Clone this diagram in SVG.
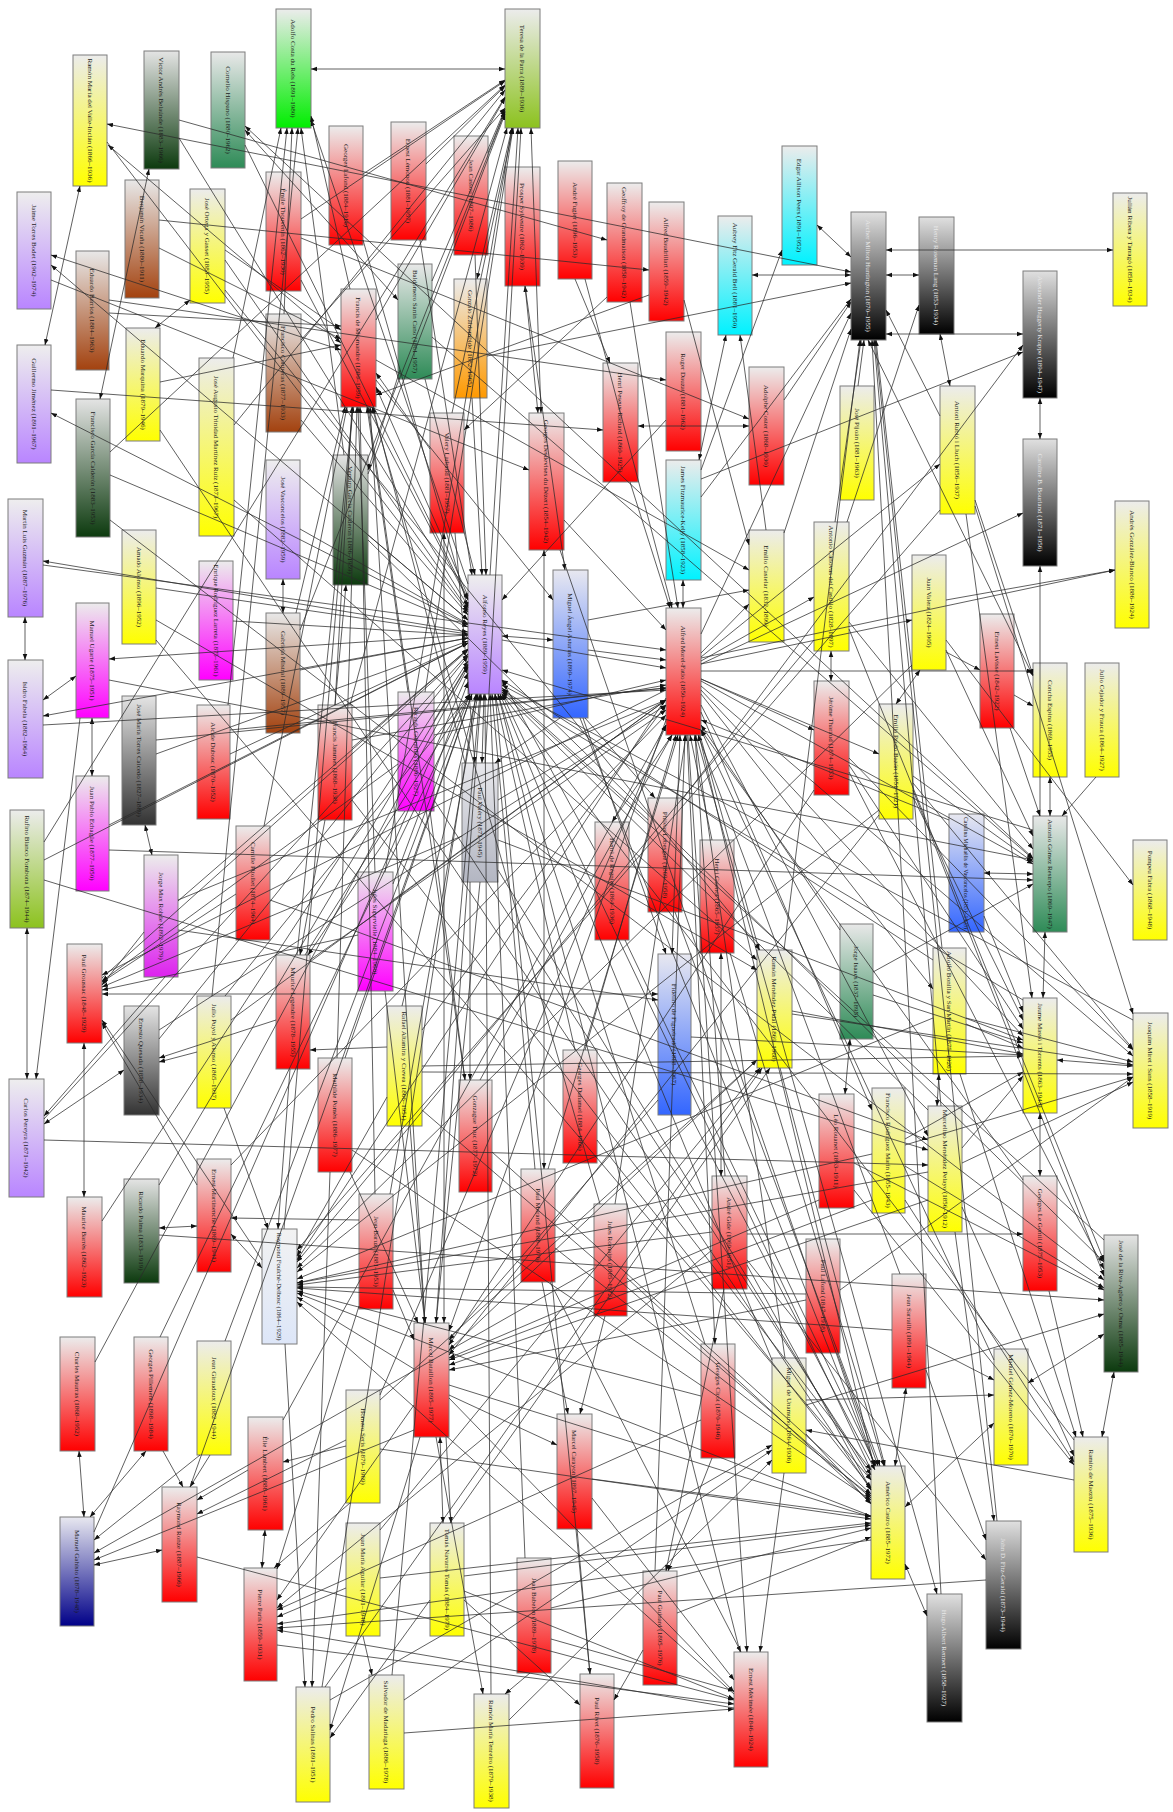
<svg xmlns="http://www.w3.org/2000/svg" width="1173" height="1812" viewBox="0 0 1173 1812">
<style>
.n rect{stroke:#7d7d7d;stroke-width:1}
.t{font-family:"Liberation Serif","DejaVu Serif",serif;font-size:7px;text-anchor:middle;fill:#1a1a1a}
.w{fill:#e8e8e8}
#edges path{stroke:#2b2b2b;stroke-width:0.75;fill:none;marker-end:url(#a)}
#edges path.b{marker-start:url(#a)}
</style>
<defs>
<marker id="a" viewBox="0 0 10 10" refX="10" refY="5" markerWidth="6" markerHeight="6" markerUnits="userSpaceOnUse" orient="auto-start-reverse"><path d="M0,1.2L10,5L0,8.8z" fill="#111"/></marker>
<linearGradient id="gR" x1="0" y1="0" x2="0" y2="1"><stop offset="0" stop-color="#ececec"/><stop offset="1" stop-color="#ff0000"/></linearGradient>
<linearGradient id="gY" x1="0" y1="0" x2="0" y2="1"><stop offset="0" stop-color="#ececec"/><stop offset="1" stop-color="#ffff00"/></linearGradient>
<linearGradient id="gL" x1="0" y1="0" x2="0" y2="1"><stop offset="0" stop-color="#eeeeee"/><stop offset="1" stop-color="#b985ff"/></linearGradient>
<linearGradient id="gM" x1="0" y1="0" x2="0" y2="1"><stop offset="0" stop-color="#ececec"/><stop offset="1" stop-color="#ff00ff"/></linearGradient>
<linearGradient id="gM2" x1="0" y1="0" x2="0" y2="1"><stop offset="0" stop-color="#ececec"/><stop offset="1" stop-color="#dd22ee"/></linearGradient>
<linearGradient id="gDG" x1="0" y1="0" x2="0" y2="1"><stop offset="0" stop-color="#e4e4e4"/><stop offset="1" stop-color="#0c3a0e"/></linearGradient>
<linearGradient id="gT" x1="0" y1="0" x2="0" y2="1"><stop offset="0" stop-color="#e8e8e8"/><stop offset="1" stop-color="#2e8b57"/></linearGradient>
<linearGradient id="gB" x1="0" y1="0" x2="0" y2="1"><stop offset="0" stop-color="#e8e8e8"/><stop offset="1" stop-color="#a3420f"/></linearGradient>
<linearGradient id="gC" x1="0" y1="0" x2="0" y2="1"><stop offset="0" stop-color="#ececec"/><stop offset="1" stop-color="#00f2ff"/></linearGradient>
<linearGradient id="gK" x1="0" y1="0" x2="0" y2="1"><stop offset="0" stop-color="#e0e0e0"/><stop offset="1" stop-color="#000000"/></linearGradient>
<linearGradient id="gG" x1="0" y1="0" x2="0" y2="1"><stop offset="0" stop-color="#e4e4e4"/><stop offset="1" stop-color="#333333"/></linearGradient>
<linearGradient id="gP" x1="0" y1="0" x2="0" y2="1"><stop offset="0" stop-color="#f2f2f2"/><stop offset="1" stop-color="#dde6f8"/></linearGradient>
<linearGradient id="gV" x1="0" y1="0" x2="0" y2="1"><stop offset="0" stop-color="#e8e8ec"/><stop offset="1" stop-color="#b3b6c2"/></linearGradient>
<linearGradient id="gBl" x1="0" y1="0" x2="0" y2="1"><stop offset="0" stop-color="#e8e8f0"/><stop offset="1" stop-color="#3366ff"/></linearGradient>
<linearGradient id="gDB" x1="0" y1="0" x2="0" y2="1"><stop offset="0" stop-color="#e8e8f0"/><stop offset="1" stop-color="#000088"/></linearGradient>
<linearGradient id="gYG" x1="0" y1="0" x2="0" y2="1"><stop offset="0" stop-color="#ececec"/><stop offset="1" stop-color="#8cc21e"/></linearGradient>
<linearGradient id="gGr" x1="0" y1="0" x2="0" y2="1"><stop offset="0" stop-color="#ececec"/><stop offset="1" stop-color="#00ee00"/></linearGradient>
<linearGradient id="gO" x1="0" y1="0" x2="0" y2="1"><stop offset="0" stop-color="#ececec"/><stop offset="1" stop-color="#ff9900"/></linearGradient>
</defs>
<rect width="1173" height="1812" fill="#ffffff"/>
<g id="nodes">
<g id="n1" class="n"><rect x="276" y="9" width="35" height="119" fill="url(#gGr)"/><text class="t" transform="translate(293.5 68.5) rotate(90)" y="2.5">Adolfo Costa du Rels (1891–1980)</text></g>
<g id="n2" class="n"><rect x="73" y="55" width="34" height="131" fill="url(#gY)"/><text class="t" transform="translate(90 120.5) rotate(90)" y="2.5" textLength="124" lengthAdjust="spacingAndGlyphs">Ramón María del Valle-Inclán (1866–1936)</text></g>
<g id="n3" class="n"><rect x="144" y="51" width="35" height="118" fill="url(#gDG)"/><text class="t" transform="translate(161.5 110) rotate(90)" y="2.5">Víctor Andrés Belaúnde (1883–1966)</text></g>
<g id="n4" class="n"><rect x="211" y="52" width="34" height="116" fill="url(#gT)"/><text class="t" transform="translate(228 110) rotate(90)" y="2.5">Cornelio Hispano (1880–1962)</text></g>
<g id="n5" class="n"><rect x="329" y="126" width="34" height="119" fill="url(#gR)"/><text class="t" transform="translate(346 185.5) rotate(90)" y="2.5">Georges Lafond (1884–1916)</text></g>
<g id="n6" class="n"><rect x="17" y="192" width="34" height="117" fill="url(#gL)"/><text class="t" transform="translate(34 250.5) rotate(90)" y="2.5">Jaime Torres Bodet (1902–1974)</text></g>
<g id="n7" class="n"><rect x="125" y="180" width="34" height="118" fill="url(#gB)"/><text class="t" transform="translate(142 239) rotate(90)" y="2.5">Benjamín Vicuña (1880–1911)</text></g>
<g id="n8" class="n"><rect x="190" y="189" width="35" height="114" fill="url(#gY)"/><text class="t" transform="translate(207.5 246) rotate(90)" y="2.5">José Ortega y Gasset (1883–1955)</text></g>
<g id="n9" class="n"><rect x="266" y="172" width="35" height="119" fill="url(#gR)"/><text class="t" transform="translate(283.5 231.5) rotate(90)" y="2.5">Émile Thouvenin (1862–1930)</text></g>
<g id="n10" class="n"><rect x="76" y="251" width="33" height="119" fill="url(#gB)"/><text class="t" transform="translate(92.5 310.5) rotate(90)" y="2.5">Eduardo Barrios (1884–1963)</text></g>
<g id="n11" class="n"><rect x="341" y="289" width="35" height="118" fill="url(#gR)"/><text class="t" transform="translate(358.5 348) rotate(90)" y="2.5">Francis de Miomandre (1880–1959)</text></g>
<g id="n12" class="n"><rect x="266" y="314" width="35" height="118" fill="url(#gB)"/><text class="t" transform="translate(283.5 373) rotate(90)" y="2.5">Francisco Contreras (1877–1933)</text></g>
<g id="n13" class="n"><rect x="126" y="328" width="34" height="113" fill="url(#gY)"/><text class="t" transform="translate(143 384.5) rotate(90)" y="2.5">Eduardo Marquina (1879–1946)</text></g>
<g id="n14" class="n"><rect x="199" y="358" width="35" height="178" fill="url(#gY)"/><text class="t" transform="translate(216.5 447) rotate(90)" y="2.5">José Augusto Trinidad Martínez Ruiz (1873–1967)</text></g>
<g id="n15" class="n"><rect x="76" y="399" width="34" height="138" fill="url(#gDG)"/><text class="t" transform="translate(93 468) rotate(90)" y="2.5">Francisco García Calderón (1883–1953)</text></g>
<g id="n16" class="n"><rect x="505" y="9" width="35" height="119" fill="url(#gYG)"/><text class="t" transform="translate(522.5 68.5) rotate(90)" y="2.5">Teresa de la Parra (1889–1936)</text></g>
<g id="n17" class="n"><rect x="391" y="122" width="35" height="118" fill="url(#gR)"/><text class="t" transform="translate(408.5 181) rotate(90)" y="2.5">Ernest Lémonon (1881–1957)</text></g>
<g id="n18" class="n"><rect x="454" y="136" width="34" height="119" fill="url(#gR)"/><text class="t" transform="translate(471 195.5) rotate(90)" y="2.5">Jean Cassou (1897–1986)</text></g>
<g id="n19" class="n"><rect x="505" y="167" width="35" height="119" fill="url(#gR)"/><text class="t" transform="translate(522.5 226.5) rotate(90)" y="2.5">Prosper Sylvestre (1862–1939)</text></g>
<g id="n20" class="n"><rect x="558" y="161" width="34" height="118" fill="url(#gR)"/><text class="t" transform="translate(575 220) rotate(90)" y="2.5">André Fugier (1896–1953)</text></g>
<g id="n21" class="n"><rect x="607" y="183" width="35" height="119" fill="url(#gR)"/><text class="t" transform="translate(624.5 242.5) rotate(90)" y="2.5">Geoffroy de Grandmaison (1858–1942)</text></g>
<g id="n22" class="n"><rect x="649" y="202" width="35" height="119" fill="url(#gR)"/><text class="t" transform="translate(666.5 261.5) rotate(90)" y="2.5">Alfred Baudrillart (1859–1942)</text></g>
<g id="n23" class="n"><rect x="718" y="216" width="34" height="119" fill="url(#gC)"/><text class="t" transform="translate(735 275.5) rotate(90)" y="2.5">Aubrey Fitz Gerald Bell (1881–1950)</text></g>
<g id="n24" class="n"><rect x="666" y="332" width="35" height="119" fill="url(#gR)"/><text class="t" transform="translate(683.5 391.5) rotate(90)" y="2.5">Roger Dauzat (1881–1962)</text></g>
<g id="n25" class="n"><rect x="603" y="363" width="35" height="119" fill="url(#gR)"/><text class="t" transform="translate(620.5 422.5) rotate(90)" y="2.5">Henri Peseux-Richard (1860–1925)</text></g>
<g id="n26" class="n"><rect x="529" y="413" width="35" height="137" fill="url(#gR)"/><text class="t" transform="translate(546.5 481.5) rotate(90)" y="2.5">Georges Desdevises du Dézert (1854–1942)</text></g>
<g id="n27" class="n"><rect x="430" y="413" width="34" height="120" fill="url(#gR)"/><text class="t" transform="translate(447 473) rotate(90)" y="2.5">Valery Larbaud (1881–1957)</text></g>
<g id="n28" class="n"><rect x="398" y="264" width="34" height="115" fill="url(#gT)"/><text class="t" transform="translate(415 321.5) rotate(90)" y="2.5">Baldomero Sanín Cano (1861–1957)</text></g>
<g id="n29" class="n"><rect x="454" y="279" width="33" height="119" fill="url(#gO)"/><text class="t" transform="translate(470.5 338.5) rotate(90)" y="2.5">Gonzalo Zaldumbide (1882–1965)</text></g>
<g id="n30" class="n"><rect x="782" y="146" width="35" height="119" fill="url(#gC)"/><text class="t" transform="translate(799.5 205.5) rotate(90)" y="2.5">Edgar Allison Peers (1891–1952)</text></g>
<g id="n31" class="n"><rect x="851" y="212" width="35" height="128" fill="url(#gK)"/><text class="t w" transform="translate(868.5 276) rotate(90)" y="2.5">Archer Milton Huntington (1870–1955)</text></g>
<g id="n32" class="n"><rect x="919" y="217" width="35" height="117" fill="url(#gK)"/><text class="t w" transform="translate(936.5 275.5) rotate(90)" y="2.5">Henry Roseman Lang (1853–1934)</text></g>
<g id="n33" class="n"><rect x="1113" y="193" width="34" height="113" fill="url(#gY)"/><text class="t" transform="translate(1130 249.5) rotate(90)" y="2.5" textLength="106" lengthAdjust="spacingAndGlyphs">Julián Ribera y Tarragó (1858–1934)</text></g>
<g id="n34" class="n"><rect x="1023" y="271" width="34" height="127" fill="url(#gK)"/><text class="t w" transform="translate(1040 334.5) rotate(90)" y="2.5">Alexander Haggerty Krappe (1894–1947)</text></g>
<g id="n35" class="n"><rect x="840" y="386" width="34" height="114" fill="url(#gY)"/><text class="t" transform="translate(857 443) rotate(90)" y="2.5">José Pijoán (1881–1963)</text></g>
<g id="n36" class="n"><rect x="940" y="386" width="35" height="128" fill="url(#gY)"/><text class="t" transform="translate(957.5 450) rotate(90)" y="2.5">Antoni Rubió i Lluch (1856–1937)</text></g>
<g id="n37" class="n"><rect x="1023" y="439" width="34" height="127" fill="url(#gK)"/><text class="t w" transform="translate(1040 502.5) rotate(90)" y="2.5">Caroline B. Bourland (1871–1956)</text></g>
<g id="n38" class="n"><rect x="814" y="522" width="35" height="129" fill="url(#gY)"/><text class="t" transform="translate(831.5 586.5) rotate(90)" y="2.5" textLength="122" lengthAdjust="spacingAndGlyphs">Antonio Cánovas del Castillo (1828–1897)</text></g>
<g id="n39" class="n"><rect x="912" y="555" width="34" height="115" fill="url(#gY)"/><text class="t" transform="translate(929 612.5) rotate(90)" y="2.5">Juan Valera (1824–1905)</text></g>
<g id="n40" class="n"><rect x="980" y="614" width="34" height="114" fill="url(#gR)"/><text class="t" transform="translate(997 671) rotate(90)" y="2.5">Ernest Lavisse (1842–1922)</text></g>
<g id="n41" class="n"><rect x="1115" y="501" width="34" height="127" fill="url(#gY)"/><text class="t" transform="translate(1132 564.5) rotate(90)" y="2.5">Andrés González-Blanco (1886–1924)</text></g>
<g id="n42" class="n"><rect x="814" y="681" width="35" height="114" fill="url(#gR)"/><text class="t" transform="translate(831.5 738) rotate(90)" y="2.5">Jérôme Tharaud (1874–1953)</text></g>
<g id="n43" class="n"><rect x="879" y="704" width="34" height="115" fill="url(#gY)"/><text class="t" transform="translate(896 761.5) rotate(90)" y="2.5">Emilia Pardo Bazán (1851–1921)</text></g>
<g id="n44" class="n"><rect x="1033" y="663" width="34" height="114" fill="url(#gY)"/><text class="t" transform="translate(1050 720) rotate(90)" y="2.5">Concha Espina (1869–1955)</text></g>
<g id="n45" class="n"><rect x="1085" y="663" width="34" height="114" fill="url(#gY)"/><text class="t" transform="translate(1102 720) rotate(90)" y="2.5">Julio Cejador y Frauca (1864–1927)</text></g>
<g id="n46" class="n"><rect x="949" y="814" width="35" height="118" fill="url(#gBl)"/><text class="t" transform="translate(966.5 873) rotate(90)" y="2.5" textLength="112" lengthAdjust="spacingAndGlyphs">Carolina Michaëlis de Vasconcelos (1851–1925)</text></g>
<g id="n47" class="n"><rect x="1033" y="816" width="34" height="116" fill="url(#gT)"/><text class="t" transform="translate(1050 874) rotate(90)" y="2.5">Antonio Gómez Restrepo (1869–1947)</text></g>
<g id="n48" class="n"><rect x="1133" y="840" width="34" height="100" fill="url(#gY)"/><text class="t" transform="translate(1150 890) rotate(90)" y="2.5">Pompeu Fabra (1868–1948)</text></g>
<g id="n49" class="n"><rect x="840" y="924" width="33" height="115" fill="url(#gT)"/><text class="t" transform="translate(856.5 981.5) rotate(90)" y="2.5">Jorge Isaacs (1837–1895)</text></g>
<g id="n50" class="n"><rect x="933" y="948" width="33" height="126" fill="url(#gY)"/><text class="t" transform="translate(949.5 1011) rotate(90)" y="2.5" textLength="120" lengthAdjust="spacingAndGlyphs">Adolfo Bonilla y San Martín (1875–1926)</text></g>
<g id="n51" class="n"><rect x="1023" y="998" width="34" height="115" fill="url(#gY)"/><text class="t" transform="translate(1040 1055.5) rotate(90)" y="2.5">Jaume Massó i Torrents (1863–1943)</text></g>
<g id="n52" class="n"><rect x="1133" y="1013" width="35" height="115" fill="url(#gY)"/><text class="t" transform="translate(1150.5 1070.5) rotate(90)" y="2.5">Joaquim Miret i Sans (1858–1919)</text></g>
<g id="n53" class="n"><rect x="819" y="1094" width="35" height="114" fill="url(#gR)"/><text class="t" transform="translate(836.5 1151) rotate(90)" y="2.5">Léo Rouanet (1863–1911)</text></g>
<g id="n54" class="n"><rect x="872" y="1088" width="33" height="125" fill="url(#gY)"/><text class="t" transform="translate(888.5 1150.5) rotate(90)" y="2.5">Francisco Rodríguez Marín (1855–1943)</text></g>
<g id="n55" class="n"><rect x="928" y="1106" width="34" height="126" fill="url(#gY)"/><text class="t" transform="translate(945 1169) rotate(90)" y="2.5">Marcelino Menéndez Pelayo (1856–1912)</text></g>
<g id="n56" class="n"><rect x="1023" y="1176" width="34" height="115" fill="url(#gR)"/><text class="t" transform="translate(1040 1233.5) rotate(90)" y="2.5">Georges Le Gentil (1875–1953)</text></g>
<g id="n57" class="n"><rect x="1104" y="1235" width="34" height="137" fill="url(#gDG)"/><text class="t" transform="translate(1121 1303.5) rotate(90)" y="2.5">José de la Riva-Agüero y Osma (1885–1944)</text></g>
<g id="n58" class="n"><rect x="806" y="1239" width="34" height="114" fill="url(#gR)"/><text class="t" transform="translate(823 1296) rotate(90)" y="2.5">Paul Lafond (1847–1918)</text></g>
<g id="n59" class="n"><rect x="892" y="1274" width="34" height="114" fill="url(#gR)"/><text class="t" transform="translate(909 1331) rotate(90)" y="2.5">Jean Sarrailh (1891–1964)</text></g>
<g id="n60" class="n"><rect x="994" y="1349" width="34" height="116" fill="url(#gY)"/><text class="t" transform="translate(1011 1407) rotate(90)" y="2.5">Manuel Gómez-Moreno (1870–1970)</text></g>
<g id="n61" class="n"><rect x="1074" y="1437" width="34" height="115" fill="url(#gY)"/><text class="t" transform="translate(1091 1494.5) rotate(90)" y="2.5">Ramiro de Maeztu (1875–1936)</text></g>
<g id="n62" class="n"><rect x="871" y="1466" width="34" height="113" fill="url(#gY)"/><text class="t" transform="translate(888 1522.5) rotate(90)" y="2.5">Américo Castro (1885–1972)</text></g>
<g id="n63" class="n"><rect x="986" y="1521" width="35" height="128" fill="url(#gK)"/><text class="t w" transform="translate(1003.5 1585) rotate(90)" y="2.5">John D. Fitz-Gerald (1873–1944)</text></g>
<g id="n64" class="n"><rect x="927" y="1594" width="35" height="128" fill="url(#gK)"/><text class="t w" transform="translate(944.5 1658) rotate(90)" y="2.5">Hugo Albert Rennert (1858–1927)</text></g>
<g id="n65" class="n"><rect x="772" y="1358" width="34" height="115" fill="url(#gY)"/><text class="t" transform="translate(789 1415.5) rotate(90)" y="2.5">Miguel de Unamuno (1864–1936)</text></g>
<g id="n66" class="n"><rect x="414" y="1323" width="35" height="114" fill="url(#gR)"/><text class="t" transform="translate(431.5 1380) rotate(90)" y="2.5">Marcel Bataillon (1895–1977)</text></g>
<g id="n67" class="n"><rect x="557" y="1414" width="35" height="115" fill="url(#gR)"/><text class="t" transform="translate(574.5 1471.5) rotate(90)" y="2.5">Marcel Carayon (1897–1945)</text></g>
<g id="n68" class="n"><rect x="701" y="1344" width="34" height="114" fill="url(#gR)"/><text class="t" transform="translate(718 1401) rotate(90)" y="2.5">Georges Cirot (1870–1946)</text></g>
<g id="n69" class="n"><rect x="430" y="1523" width="34" height="113" fill="url(#gY)"/><text class="t" transform="translate(447 1579.5) rotate(90)" y="2.5">Tomás Navarro Tomás (1884–1979)</text></g>
<g id="n70" class="n"><rect x="517" y="1558" width="34" height="115" fill="url(#gR)"/><text class="t" transform="translate(534 1615.5) rotate(90)" y="2.5">Jean Babelon (1889–1978)</text></g>
<g id="n71" class="n"><rect x="643" y="1571" width="34" height="114" fill="url(#gR)"/><text class="t" transform="translate(660 1628) rotate(90)" y="2.5">Paul Guinard (1895–1976)</text></g>
<g id="n72" class="n"><rect x="474" y="1694" width="35" height="114" fill="url(#gY)"/><text class="t" transform="translate(491.5 1751) rotate(90)" y="2.5">Ramón María Tenreiro (1879–1938)</text></g>
<g id="n73" class="n"><rect x="580" y="1674" width="34" height="114" fill="url(#gR)"/><text class="t" transform="translate(597 1731) rotate(90)" y="2.5">Paul Rivet (1876–1958)</text></g>
<g id="n74" class="n"><rect x="734" y="1652" width="34" height="115" fill="url(#gR)"/><text class="t" transform="translate(751 1709.5) rotate(90)" y="2.5">Ernest Mérimée (1846–1924)</text></g>
<g id="n75" class="n"><rect x="60" y="1337" width="35" height="114" fill="url(#gR)"/><text class="t" transform="translate(77.5 1394) rotate(90)" y="2.5">Charles Maurras (1868–1952)</text></g>
<g id="n76" class="n"><rect x="134" y="1337" width="34" height="114" fill="url(#gR)"/><text class="t" transform="translate(151 1394) rotate(90)" y="2.5">Georges Pillement (1898–1984)</text></g>
<g id="n77" class="n"><rect x="197" y="1341" width="34" height="114" fill="url(#gY)"/><text class="t" transform="translate(214 1398) rotate(90)" y="2.5">Jean Giraudoux (1882–1944)</text></g>
<g id="n78" class="n"><rect x="248" y="1417" width="35" height="113" fill="url(#gR)"/><text class="t" transform="translate(265.5 1473.5) rotate(90)" y="2.5">Élie Lambert (1888–1961)</text></g>
<g id="n79" class="n"><rect x="346" y="1390" width="34" height="113" fill="url(#gY)"/><text class="t" transform="translate(363 1446.5) rotate(90)" y="2.5">Homero Serís (1879–1969)</text></g>
<g id="n80" class="n"><rect x="60" y="1517" width="34" height="109" fill="url(#gDB)"/><text class="t" transform="translate(77 1571.5) rotate(90)" y="2.5">Manuel Gahisto (1878–1948)</text></g>
<g id="n81" class="n"><rect x="162" y="1487" width="35" height="115" fill="url(#gR)"/><text class="t" transform="translate(179.5 1544.5) rotate(90)" y="2.5">Raymond Ronze (1887–1966)</text></g>
<g id="n82" class="n"><rect x="346" y="1523" width="34" height="113" fill="url(#gY)"/><text class="t" transform="translate(363 1579.5) rotate(90)" y="2.5">Juan María Aguilar (1891–1948)</text></g>
<g id="n83" class="n"><rect x="244" y="1568" width="33" height="113" fill="url(#gR)"/><text class="t" transform="translate(260.5 1624.5) rotate(90)" y="2.5">Pierre Paris (1859–1931)</text></g>
<g id="n84" class="n"><rect x="296" y="1687" width="34" height="115" fill="url(#gY)"/><text class="t" transform="translate(313 1744.5) rotate(90)" y="2.5">Pedro Salinas (1891–1951)</text></g>
<g id="n85" class="n"><rect x="369" y="1675" width="35" height="114" fill="url(#gY)"/><text class="t" transform="translate(386.5 1732) rotate(90)" y="2.5">Salvador de Madariaga (1886–1978)</text></g>
<g id="n86" class="n"><rect x="10" y="810" width="34" height="118" fill="url(#gYG)"/><text class="t" transform="translate(27 869) rotate(90)" y="2.5">Rufino Blanco Fombona (1874–1944)</text></g>
<g id="n87" class="n"><rect x="67" y="944" width="35" height="99" fill="url(#gR)"/><text class="t" transform="translate(84.5 993.5) rotate(90)" y="2.5">Paul Groussac (1848–1929)</text></g>
<g id="n88" class="n"><rect x="124" y="1006" width="35" height="109" fill="url(#gG)"/><text class="t" transform="translate(141.5 1060.5) rotate(90)" y="2.5">Ernesto Quesada (1858–1934)</text></g>
<g id="n89" class="n"><rect x="197" y="996" width="34" height="112" fill="url(#gY)"/><text class="t" transform="translate(214 1052) rotate(90)" y="2.5">Julio Puyol y Alonso (1865–1937)</text></g>
<g id="n90" class="n"><rect x="276" y="955" width="34" height="114" fill="url(#gR)"/><text class="t" transform="translate(293 1012) rotate(90)" y="2.5">Maurice Legendre (1878–1955)</text></g>
<g id="n91" class="n"><rect x="124" y="1179" width="35" height="104" fill="url(#gDG)"/><text class="t" transform="translate(141.5 1231) rotate(90)" y="2.5">Ricardo Palma (1833–1919)</text></g>
<g id="n92" class="n"><rect x="67" y="1197" width="35" height="100" fill="url(#gR)"/><text class="t" transform="translate(84.5 1247) rotate(90)" y="2.5">Maurice Barrès (1862–1923)</text></g>
<g id="n93" class="n"><rect x="9" y="1079" width="35" height="118" fill="url(#gL)"/><text class="t" transform="translate(26.5 1138) rotate(90)" y="2.5">Carlos Pereyra (1871–1942)</text></g>
<g id="n94" class="n"><rect x="197" y="1159" width="34" height="113" fill="url(#gR)"/><text class="t" transform="translate(214 1215.5) rotate(90)" y="2.5">Ernest Martinenche (1869–1941)</text></g>
<g id="n95" class="n"><rect x="262" y="1229" width="35" height="115" fill="url(#gP)"/><text class="t" transform="translate(279.5 1286.5) rotate(90)" y="2.5" textLength="108" lengthAdjust="spacingAndGlyphs">Raymond Foulché-Delbosc (1864–1929)</text></g>
<g id="n96" class="n"><rect x="318" y="1058" width="34" height="114" fill="url(#gR)"/><text class="t" transform="translate(335 1115) rotate(90)" y="2.5">Mathilde Pomès (1886–1977)</text></g>
<g id="n97" class="n"><rect x="359" y="1194" width="34" height="115" fill="url(#gR)"/><text class="t" transform="translate(376 1251.5) rotate(90)" y="2.5">Jean Baruzi (1881–1953)</text></g>
<g id="n98" class="n"><rect x="236" y="826" width="34" height="114" fill="url(#gR)"/><text class="t" transform="translate(253 883) rotate(90)" y="2.5">Camille Pitollet (1874–1964)</text></g>
<g id="n99" class="n"><rect x="8" y="499" width="35" height="118" fill="url(#gL)"/><text class="t" transform="translate(25.5 558) rotate(90)" y="2.5">Martín Luis Guzmán (1887–1976)</text></g>
<g id="n101" class="n"><rect x="122" y="530" width="34" height="114" fill="url(#gY)"/><text class="t" transform="translate(139 587) rotate(90)" y="2.5">Amado Alonso (1896–1952)</text></g>
<g id="n102" class="n"><rect x="76" y="603" width="33" height="115" fill="url(#gM)"/><text class="t" transform="translate(92.5 660.5) rotate(90)" y="2.5">Manuel Ugarte (1875–1951)</text></g>
<g id="n103" class="n"><rect x="8" y="660" width="35" height="118" fill="url(#gL)"/><text class="t" transform="translate(25.5 719) rotate(90)" y="2.5">Isidro Fabela (1882–1964)</text></g>
<g id="n104" class="n"><rect x="122" y="696" width="34" height="129" fill="url(#gG)"/><text class="t" transform="translate(139 760.5) rotate(90)" y="2.5">José María Torres Caicedo (1827–1889)</text></g>
<g id="n105" class="n"><rect x="76" y="776" width="33" height="115" fill="url(#gM)"/><text class="t" transform="translate(92.5 833.5) rotate(90)" y="2.5">Juan Pablo Echagüe (1877–1950)</text></g>
<g id="n106" class="n"><rect x="144" y="855" width="34" height="122" fill="url(#gM2)"/><text class="t" transform="translate(161 916) rotate(90)" y="2.5">Jorge Max Rohde (1892–1979)</text></g>
<g id="n107" class="n"><rect x="199" y="561" width="34" height="119" fill="url(#gM)"/><text class="t" transform="translate(216 620.5) rotate(90)" y="2.5" textLength="112" lengthAdjust="spacingAndGlyphs">Enrique Rodríguez Larreta (1875–1961)</text></g>
<g id="n108" class="n"><rect x="266" y="460" width="34" height="119" fill="url(#gL)"/><text class="t" transform="translate(283 519.5) rotate(90)" y="2.5">José Vasconcelos (1882–1959)</text></g>
<g id="n109" class="n"><rect x="266" y="613" width="34" height="120" fill="url(#gB)"/><text class="t" transform="translate(283 673) rotate(90)" y="2.5">Gabriela Mistral (1889–1957)</text></g>
<g id="n110" class="n"><rect x="333" y="455" width="35" height="130" fill="url(#gDG)"/><text class="t" transform="translate(350.5 520) rotate(90)" y="2.5">Ventura García Calderón (1886–1959)</text></g>
<g id="n111" class="n"><rect x="197" y="705" width="33" height="114" fill="url(#gR)"/><text class="t" transform="translate(213.5 762) rotate(90)" y="2.5">Alcide Dubosc (1870–1952)</text></g>
<g id="n112" class="n"><rect x="318" y="705" width="34" height="115" fill="url(#gR)"/><text class="t" transform="translate(335 762.5) rotate(90)" y="2.5">Francis Jammes (1868–1938)</text></g>
<g id="n113" class="n"><rect x="468" y="575" width="34" height="119" fill="url(#gL)"/><text class="t" transform="translate(485 634.5) rotate(90)" y="2.5">Alfonso Reyes (1889–1959)</text></g>
<g id="n114" class="n"><rect x="553" y="570" width="35" height="148" fill="url(#gBl)"/><text class="t" transform="translate(570.5 644) rotate(90)" y="2.5">Miguel Ángel Asturias (1899–1974)</text></g>
<g id="n116" class="n"><rect x="666" y="460" width="35" height="120" fill="url(#gC)"/><text class="t" transform="translate(683.5 520) rotate(90)" y="2.5">James Fitzmaurice-Kelly (1858–1923)</text></g>
<g id="n117" class="n"><rect x="666" y="608" width="35" height="127" fill="url(#gR)"/><text class="t" transform="translate(683.5 671.5) rotate(90)" y="2.5">Alfred Morel-Fatio (1850–1924)</text></g>
<g id="n118" class="n"><rect x="749" y="530" width="35" height="112" fill="url(#gY)"/><text class="t" transform="translate(766.5 586) rotate(90)" y="2.5">Emilio Castelar (1832–1899)</text></g>
<g id="n119" class="n"><rect x="398" y="692" width="36" height="119" fill="url(#gM)"/><text class="t" transform="translate(416 751.5) rotate(90)" y="2.5">Ricardo Güiraldes (1886–1927)</text></g>
<g id="n120" class="n"><rect x="462" y="763" width="36" height="119" fill="url(#gV)"/><text class="t" transform="translate(480 822.5) rotate(90)" y="2.5">Paul Valéry (1871–1945)</text></g>
<g id="n121" class="n"><rect x="595" y="822" width="34" height="118" fill="url(#gR)"/><text class="t" transform="translate(612 881) rotate(90)" y="2.5">Henri de Régnier (1864–1936)</text></g>
<g id="n122" class="n"><rect x="648" y="798" width="34" height="114" fill="url(#gR)"/><text class="t" transform="translate(665 855) rotate(90)" y="2.5">Philéas Lebesgue (1869–1958)</text></g>
<g id="n123" class="n"><rect x="700" y="840" width="34" height="113" fill="url(#gR)"/><text class="t" transform="translate(717 896.5) rotate(90)" y="2.5">Henri Guenot (1865–1937)</text></g>
<g id="n124" class="n"><rect x="658" y="954" width="33" height="161" fill="url(#gBl)"/><text class="t" transform="translate(674.5 1034.5) rotate(90)" y="2.5">Fidelino de Figueiredo (1888–1967)</text></g>
<g id="n125" class="n"><rect x="387" y="1006" width="35" height="120" fill="url(#gY)"/><text class="t" transform="translate(404.5 1066) rotate(90)" y="2.5">Rafael Altamira y Crevea (1866–1951)</text></g>
<g id="n126" class="n"><rect x="459" y="1080" width="33" height="112" fill="url(#gR)"/><text class="t" transform="translate(475.5 1136) rotate(90)" y="2.5">Gonzague Truc (1877–1972)</text></g>
<g id="n127" class="n"><rect x="563" y="1050" width="34" height="113" fill="url(#gR)"/><text class="t" transform="translate(580 1106.5) rotate(90)" y="2.5">Georges Duhamel (1884–1966)</text></g>
<g id="n128" class="n"><rect x="521" y="1169" width="34" height="113" fill="url(#gR)"/><text class="t" transform="translate(538 1225.5) rotate(90)" y="2.5">Paul Morand (1888–1976)</text></g>
<g id="n129" class="n"><rect x="594" y="1204" width="33" height="112" fill="url(#gR)"/><text class="t" transform="translate(610.5 1260) rotate(90)" y="2.5">Jules Romains (1885–1972)</text></g>
<g id="n130" class="n"><rect x="712" y="1176" width="35" height="113" fill="url(#gR)"/><text class="t" transform="translate(729.5 1232.5) rotate(90)" y="2.5">André Gide (1869–1951)</text></g>
<g id="n131" class="n"><rect x="358" y="872" width="35" height="119" fill="url(#gM)"/><text class="t" transform="translate(375.5 931.5) rotate(90)" y="2.5">Jules Supervielle (1884–1960)</text></g>
<g id="n132" class="n"><rect x="749" y="367" width="35" height="118" fill="url(#gR)"/><text class="t" transform="translate(766.5 426) rotate(90)" y="2.5">Adolphe Coster (1868–1930)</text></g>
<g id="n133" class="n"><rect x="757" y="950" width="35" height="118" fill="url(#gY)"/><text class="t" transform="translate(774.5 1009) rotate(90)" y="2.5">Ramón Menéndez Pidal (1869–1968)</text></g>
<g id="n134" class="n"><rect x="17" y="345" width="34" height="118" fill="url(#gL)"/><text class="t" transform="translate(34 404) rotate(90)" y="2.5">Guillermo Jiménez (1891–1967)</text></g>
</g>
<g id="edges">
<path d="M376 320L505 98"/><path d="M301 340L505 108"/><path d="M452 413L513 128"/><path d="M490 575L518 128"/><path d="M485 763L521 128"/><path d="M432 281L505 109"/><path class="b" d="M477 279L512 128"/><path d="M368 474L505 114"/><path d="M300 630L505 112"/><path d="M234 425L505 90"/><path d="M425 692L513 128"/><path d="M385 872L512 128"/><path d="M350 705L507 128"/><path d="M44 842L505 97"/><path d="M110 452L505 85"/><path class="b" d="M531 128L541 413"/><path d="M301 219L505 81"/><path d="M363 174L505 80"/><path d="M488 153L505 111"/><path d="M426 164L505 86"/><path class="b" d="M311 69L505 69"/>
<path d="M233 358L281 128"/><path d="M284 314L292 128"/><path d="M344 455L301 128"/><path d="M468 584L311 120"/><path d="M228 705L287 128"/><path d="M212 996L298 128"/><path d="M350 289L311 116"/>
<path class="b" d="M108 145L341 343"/><path class="b" d="M51 255L341 350"/><path d="M468 596L376 387"/><path d="M430 449L376 373"/><path d="M465 763L373 407"/><path d="M375 872L358 407"/><path d="M335 705L352 407"/><path d="M264 826L347 407"/><path d="M297 955L353 407"/><path d="M337 1058L357 407"/><path d="M375 1194L360 407"/><path d="M284 1229L353 407"/><path d="M408 692L367 407"/><path d="M296 613L345 407"/><path d="M109 313L341 326"/><path d="M159 248L341 339"/><path d="M160 382L341 345"/>
<path class="b" d="M51 265L468 620"/><path class="b" d="M51 413L468 625"/><path class="b" d="M43 561L468 632"/><path class="b" d="M43 716L468 638"/><path d="M44 1119L468 654"/><path class="b" d="M109 659L468 635"/><path d="M109 825L468 643"/><path d="M156 588L468 634"/><path d="M233 621L468 635"/><path d="M300 529L468 624"/><path d="M368 535L468 620"/><path d="M110 475L468 627"/><path d="M179 138L468 606"/><path d="M245 145L468 599"/><path d="M425 379L475 575"/><path d="M472 398L482 575"/><path d="M300 670L468 638"/><path d="M230 754L468 643"/><path d="M156 754L468 641"/><path d="M352 748L468 649"/><path d="M434 721L468 664"/><path d="M393 884L468 682"/><path d="M44 860L468 643"/><path d="M178 901L468 649"/><path d="M107 142L468 612"/><path class="b" d="M482 763L484 694"/><path d="M402 1006L477 694"/><path d="M502 640L666 668"/><path class="b" d="M502 636L553 640"/><path d="M102 978L468 650"/><path d="M159 1039L468 656"/><path d="M102 1221L468 661"/><path d="M95 1362L468 667"/><path d="M436 1323L481 694"/><path d="M94 1532L468 673"/><path d="M392 1675L480 694"/><path d="M322 1687L476 694"/><path d="M491 1694L485 694"/>
<path d="M701 705L928 1136"/><path d="M701 694L933 989"/><path d="M701 661L814 597"/><path d="M701 664L912 620"/><path d="M701 679L879 754"/><path d="M701 657L940 464"/><path d="M701 690L1023 1036"/><path d="M701 686L1133 1056"/><path d="M701 712L872 1110"/><path d="M701 653L749 604"/><path class="b" d="M683 608L683 580"/><path d="M701 671L1033 671"/><path d="M701 681L1033 864"/><path d="M700 735L759 950"/><path d="M701 679L814 730"/><path d="M666 698L297 1260"/><path d="M666 720L449 1331"/><path d="M688 735L747 1652"/><path d="M687 735L715 1344"/><path d="M699 735L874 1466"/><path d="M696 735L937 1594"/>
<path d="M928 1172L297 1283"/><path d="M734 1694L297 1302"/><path d="M414 1369L297 1297"/><path d="M871 1516L297 1293"/><path d="M872 1154L297 1283"/><path d="M806 1294L297 1287"/><path class="b" d="M231 1234L262 1268"/><path d="M701 1396L297 1291"/><path d="M387 1097L297 1256"/><path d="M892 1330L297 1288"/><path d="M712 1232L297 1285"/><path d="M933 1018L297 1279"/>
<path d="M358 935L102 990"/><path d="M398 764L102 981"/><path d="M666 690L102 975"/><path d="M236 894L102 982"/><path d="M144 932L102 985"/><path d="M462 836L102 987"/><path d="M197 1185L102 1023"/><path d="M262 1260L102 1020"/><path class="b" d="M84 1043L84 1197"/><path class="b" d="M102 994L658 994"/>
<path class="b" d="M1057 1060L1133 1066"/><path class="b" d="M1040 1113L1040 1176"/><path class="b" d="M1045 932L1043 998"/><path d="M966 514L1032 998"/><path d="M962 1148L1023 1076"/><path d="M966 1024L1023 1048"/><path d="M905 1139L1023 1072"/><path d="M792 1011L1023 1054"/><path d="M422 1066L1023 1056"/><path d="M984 916L1023 1012"/><path d="M913 797L1023 1020"/><path d="M873 995L1023 1043"/><path d="M849 765L1023 1029"/><path d="M691 1037L1023 1055"/>
<path d="M966 1018L1133 1062"/><path d="M962 1163L1133 1082"/><path d="M905 1145L1133 1077"/><path d="M792 1014L1133 1065"/><path d="M913 783L1133 1049"/><path d="M849 758L1133 1050"/><path d="M975 506L1133 1014"/><path d="M840 1290L1133 1077"/><path d="M422 1072L1133 1074"/>
<path class="b" d="M1050 777L1050 816"/><path d="M1096 777L1062 816"/><path d="M1040 816L1040 566"/><path class="b" d="M245 126L1033 858"/><path d="M432 337L1033 859"/><path d="M946 650L1033 836"/><path d="M913 776L1033 862"/><path d="M849 622L1033 849"/><path d="M873 972L1033 884"/><path class="b" d="M984 873L1033 874"/><path d="M1010 728L1040 816"/>
<path class="b" d="M905 1564L927 1616"/><path d="M449 1385L871 1517"/><path class="b" d="M906 1388L895 1466"/><path class="b" d="M994 1423L905 1507"/><path d="M806 1434L871 1504"/><path d="M464 1576L871 1525"/><path d="M380 1578L871 1523"/><path d="M380 1449L871 1519"/><path d="M747 1265L871 1490"/><path d="M837 1353L878 1466"/><path d="M555 1248L871 1496"/><path d="M627 1278L871 1503"/><path d="M492 1152L871 1494"/><path d="M592 1479L871 1516"/><path d="M677 1613L871 1537"/><path d="M551 1608L871 1528"/>
<path d="M449 1398L734 1692"/><path d="M592 1498L734 1680"/><path d="M464 1591L734 1699"/><path d="M551 1639L734 1691"/><path d="M197 1557L734 1700"/><path d="M404 1733L734 1709"/><path d="M277 1645L734 1704"/><path d="M784 1473L760 1652"/><path d="M550 1282L741 1652"/>
<path class="b" d="M265 1530L262 1568"/><path d="M350 1503L274 1568"/><path d="M346 1588L277 1617"/><path d="M414 1405L277 1600"/><path d="M701 1420L277 1610"/><path d="M712 1250L277 1608"/><path d="M359 1306L277 1569"/><path d="M871 1540L277 1624"/><path d="M734 1708L277 1630"/><path d="M986 1580L277 1628"/>
<path class="b" d="M146 1451L90 1517"/><path class="b" d="M162 1550L94 1565"/><path d="M200 1455L94 1540"/><path class="b" d="M79 1451L84 1517"/><path d="M594 1268L94 1553"/><path d="M414 1430L94 1560"/>
<path class="b" d="M1114 1372L1102 1437"/><path d="M1049 1291L1083 1437"/><path d="M962 1207L1074 1456"/><path d="M905 1200L1074 1462"/><path d="M854 1190L1074 1465"/><path d="M960 1074L1076 1437"/><path d="M368 540L1104 1262"/><path d="M849 772L1104 1269"/><path d="M913 790L1104 1276"/><path d="M849 629L1104 1261"/><path d="M854 1163L1104 1290"/><path d="M905 1166L1104 1288"/><path d="M806 1405L1104 1314"/><path class="b" d="M1028 1383L1104 1334"/>
<path class="b" d="M107 124L851 272"/><path d="M487 356L851 283"/><path d="M941 1594L872 340"/><path d="M997 1521L875 340"/><path d="M784 950L860 340"/><path d="M942 948L876 340"/><path d="M941 1106L874 340"/><path d="M784 533L851 329"/><path d="M835 522L861 340"/><path d="M940 416L886 310"/><path d="M858 386L864 340"/><path d="M701 634L851 313"/><path d="M701 497L851 299"/><path d="M784 400L851 302"/><path class="b" d="M817 225L851 257"/><path class="b" d="M752 275L851 275"/><path class="b" d="M886 275L919 275"/><path class="b" d="M886 250L1113 250"/><path class="b" d="M886 334L1023 334"/><path d="M701 479L1023 352"/><path d="M847 522L919 305"/><path d="M682 800L1023 345"/><path class="b" d="M868 340L1033 676"/><path d="M946 652L980 670"/><path d="M1014 695L1033 706"/><path d="M701 658L1115 570"/><path d="M701 664L1023 513"/><path class="b" d="M831 651L831 681"/><path class="b" d="M896 704L920 670"/><path d="M975 500L1033 675"/><path d="M946 640L1133 885"/><path class="b" d="M850 1039L845 1094"/><path class="b" d="M939 1074L937 1106"/><path d="M747 1234L1023 1234"/><path d="M806 1400L994 1395"/><path d="M926 1345L994 1380"/><path d="M926 1370L986 1540"/><path d="M747 1260L986 1560"/><path d="M955 1232L994 1521"/>
<path class="b" d="M440 1437L443 1523"/><path d="M446 1437L451 1523"/><path d="M436 1437L483 1694"/><path d="M530 1673L505 1694"/><path d="M542 1282L568 1414"/><path d="M605 1316L580 1414"/><path d="M449 1395L557 1445"/><path d="M724 1289L666 1571"/><path d="M712 1458L668 1571"/><path d="M577 1529L590 1674"/><path d="M464 1600L580 1705"/><path d="M643 1650L614 1700"/><path d="M346 1440L197 1514"/><path d="M248 1470L197 1500"/><path d="M210 1455L190 1487"/><path d="M163 1451L183 1487"/><path d="M346 1446L283 1462"/><path d="M330 1172L312 1687"/><path d="M285 1344L305 1687"/><path d="M420 1437L330 1730"/><path d="M430 1600L330 1738"/><path d="M363 1636L372 1675"/>
<path class="b" d="M27 928L27 1079"/><path d="M80 718L36 1079"/><path class="b" d="M124 1070L44 1124"/><path d="M165 977L44 1116"/><path class="b" d="M159 1228L197 1226"/><path d="M359 1220L231 1218"/><path d="M290 1069L278 1229"/><path d="M224 1108L268 1229"/><path d="M325 820L300 955"/><path d="M405 811L308 955"/><path d="M387 1047L310 1050"/><path d="M197 1052L159 1062"/><path d="M276 1020L159 1058"/><path class="b" d="M25 617L25 660"/><path class="b" d="M43 700L76 676"/><path class="b" d="M92 718L92 776"/><path class="b" d="M145 825L152 855"/><path class="b" d="M283 579L283 613"/><path d="M335 705L346 585"/><path class="b" d="M80 186L45 345"/><path class="b" d="M100 399L149 169"/><path class="b" d="M544 550L544 1169"/><path class="b" d="M444 533L444 1323"/><path d="M470 882L470 1080"/><path class="b" d="M721 953L721 1176"/><path class="b" d="M638 426L749 426"/><path d="M301 238L749 419"/><path class="b" d="M726 335L699 460"/><path d="M607 297L464 430"/><path d="M649 295L376 395"/><path d="M575 279L610 363"/><path class="b" d="M525 286L538 413"/>
<path class="b" d="M612 822L672 735"/><path d="M588 650L666 660"/><path d="M376 380L553 600"/><path d="M110 520L1104 1280"/><path d="M159 1235L1104 1300"/><path d="M44 1140L928 1165"/><path d="M44 880L928 1150"/><path d="M43 725L666 690"/><path d="M43 565L666 650"/><path d="M109 680L1033 860"/><path d="M109 850L1033 880"/><path d="M178 930L658 1000"/><path d="M225 290L760 950"/><path d="M234 500L757 960"/><path d="M160 430L871 1490"/><path d="M156 640L871 1480"/><path d="M156 620L757 970"/><path d="M450 1523L770 1068"/><path d="M380 1530L760 1068"/><path d="M380 1400L757 1060"/><path d="M325 1687L762 1068"/><path d="M404 1700L772 1450"/><path d="M509 1720L772 1460"/><path d="M1074 1480L806 1430"/><path d="M330 1700L772 1445"/><path d="M575 1050L495 694"/><path d="M465 1080L368 407"/><path d="M595 850L502 680"/><path d="M648 820L502 688"/><path d="M535 1169L492 694"/><path d="M600 1204L372 407"/><path d="M425 1323L370 407"/><path d="M390 1194L478 694"/><path d="M345 1058L472 694"/><path d="M305 955L470 694"/><path d="M231 1020L666 700"/><path d="M422 1030L666 705"/><path class="b" d="M672 954L680 735"/><path d="M712 840L690 735"/><path d="M498 800L666 700"/><path d="M434 735L666 680"/><path d="M393 900L666 700"/><path d="M352 740L666 685"/><path d="M588 620L749 590"/><path d="M376 360L749 570"/><path d="M701 470L782 250"/><path d="M766 530L740 335"/><path class="b" d="M950 386L940 334"/><path class="b" d="M1040 439L1040 398"/><path d="M946 600L1115 570"/><path d="M51 280L529 470"/><path d="M51 390L603 430"/><path d="M109 300L666 380"/><path d="M159 220L649 270"/><path d="M179 120L607 240"/><path class="b" d="M245 130L398 300"/><path d="M225 260L468 610"/><path class="b" d="M190 300L155 328"/>
<path d="M363 240L468 608"/><path d="M420 240L472 575"/><path d="M475 255L486 575"/><path d="M525 286L565 570"/><path d="M585 279L672 608"/><path d="M630 302L678 608"/><path d="M684 300L749 545"/><path d="M666 420L502 600"/><path d="M630 482L670 608"/><path d="M564 520L666 630"/><path d="M560 550L875 1466"/><path d="M455 533L475 763"/><path d="M400 370L368 470"/><path d="M301 280L468 600"/><path d="M301 420L468 615"/><path d="M225 250L341 330"/><path d="M580 718L875 1466"/><path d="M560 718L495 763"/><path d="M585 718L655 798"/><path d="M583 718L666 954"/><path d="M498 870L871 1480"/><path d="M480 882L436 1323"/><path d="M498 840L1023 1040"/><path d="M430 811L465 1080"/><path d="M434 800L871 1475"/><path d="M385 991L425 1323"/><path d="M352 800L871 1470"/><path d="M270 900L928 1140"/><path d="M310 960L666 710"/><path d="M352 1150L871 1500"/><path d="M350 1172L418 1323"/><path d="M393 1290L414 1340"/><path d="M410 1126L425 1323"/><path d="M422 1110L871 1498"/><path d="M480 1080L672 735"/><path d="M597 1140L871 1488"/><path d="M585 1050L676 735"/><path d="M548 1169L678 735"/><path d="M615 1204L686 735"/><path d="M725 1176L695 735"/><path d="M625 940L876 1466"/><path d="M675 912L880 1466"/><path d="M730 953L884 1466"/><path d="M690 1115L875 1470"/><path d="M658 1100L449 1340"/><path d="M780 1068L885 1466"/><path d="M757 1060L449 1350"/><path d="M814 790L449 1345"/><path d="M879 815L449 1355"/><path d="M928 1200L449 1365"/><path d="M872 1200L449 1360"/><path d="M819 1200L449 1358"/><path d="M806 1300L449 1370"/><path d="M912 665L297 1268"/><path d="M814 640L297 1262"/><path d="M879 810L297 1272"/><path d="M940 510L297 1250"/><path d="M949 820L701 720"/><path d="M840 930L701 725"/><path d="M933 960L502 680"/><path d="M1023 1000L502 690"/><path d="M1133 1020L502 685"/><path d="M1033 830L502 670"/><path d="M928 1110L502 692"/><path d="M871 1470L502 694"/><path d="M740 1652L498 694"/><path d="M994 1360L701 730"/><path d="M1104 1240L502 690"/><path d="M1074 1440L502 694"/><path d="M772 1360L500 694"/><path d="M785 1358L695 735"/><path d="M900 1274L698 735"/><path d="M1023 1180L701 730"/><path d="M705 1344L498 694"/><path d="M655 1571L685 735"/><path d="M590 1674L495 694"/><path d="M525 1558L490 694"/><path d="M380 1395L666 725"/><path d="M283 1420L666 725"/><path d="M190 1487L472 694"/><path d="M225 1341L470 694"/><path d="M160 1337L470 694"/><path d="M231 1165L666 715"/><path d="M159 1185L468 665"/><path d="M159 1030L666 705"/><path d="M225 996L470 694"/><path d="M178 900L666 700"/><path d="M156 740L666 688"/><path d="M230 730L666 688"/>
</g>
</svg>
